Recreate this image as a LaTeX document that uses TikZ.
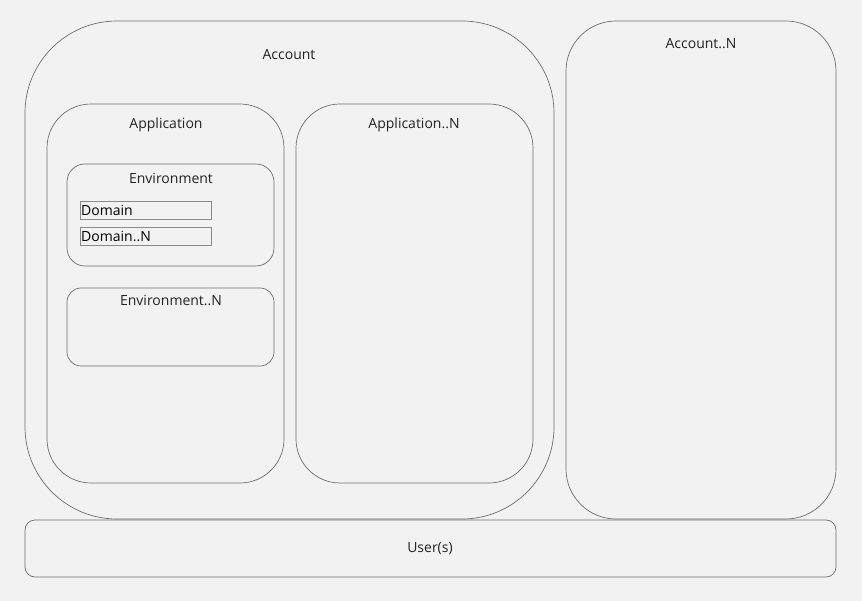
\documentclass[tikz,border=0pt]{standalone}
\usepackage{fontspec}
\setmainfont{Open Sans}
\definecolor{bg}{HTML}{F2F2F2}
\definecolor{edge}{HTML}{6E6E6E}
\definecolor{dedge}{HTML}{8A8A8A}
\definecolor{txt}{HTML}{222222}
\begin{document}
\begin{tikzpicture}[x=1pt,y=-1pt,
  box/.style={draw=edge, line width=0.7pt, inner sep=0pt},
  dombox/.style={draw=dedge, line width=0.9pt, inner sep=0pt, minimum width=131pt, minimum height=18pt},
  lbl/.style={text=txt, font=\fontsize{14}{16}\selectfont, inner sep=0pt},
  dlbl/.style={text=black, font=\fontsize{14}{16}\selectfont, inner sep=0pt, anchor=west}]
\fill[bg] (0,0) rectangle (862,601);
\useasboundingbox (0,0) rectangle (862,601);
\node[box, rounded corners=92pt, minimum width=529pt, minimum height=498pt] (acc) at (289.5,270) {};
\node[box, rounded corners=50pt, minimum width=270pt, minimum height=498pt] (accn) at (701,270) {};
\node[box, rounded corners=44pt, minimum width=237pt, minimum height=379pt] (app) at (165.5,293.5) {};
\node[box, rounded corners=44pt, minimum width=237pt, minimum height=379pt] (appn) at (414.5,293.5) {};
\node[box, rounded corners=18pt, minimum width=207pt, minimum height=102pt] (env) at (170.5,215) {};
\node[box, rounded corners=14pt, minimum width=207pt, minimum height=78pt] (envn) at (170.5,327) {};
\node[dombox] (dom) at (145.5,210) {};
\node[dombox] (domn) at (145.5,236) {};
\node[box, rounded corners=10pt, minimum width=811pt, minimum height=57pt] (users) at (430.5,548.5) {};
\node[lbl] (laccn) at (289,55) {Account};
\node[lbl] (laccnn) at (701,44) {Account..N};
\node[lbl] (lapp) at (166,125) {Application};
\node[lbl] (lappn) at (414,125) {Application..N};
\node[lbl] (lenv) at (171,178) {Environment};
\node[lbl] (lenvn) at (171,300) {Environment..N};
\node[dlbl] (ldom) at (81,210.5) {Domain};
\node[dlbl] (ldomn) at (81,236.5) {Domain..N};
\node[lbl] (lusers) at (430,549) {User(s)};
\end{tikzpicture}
\end{document}
